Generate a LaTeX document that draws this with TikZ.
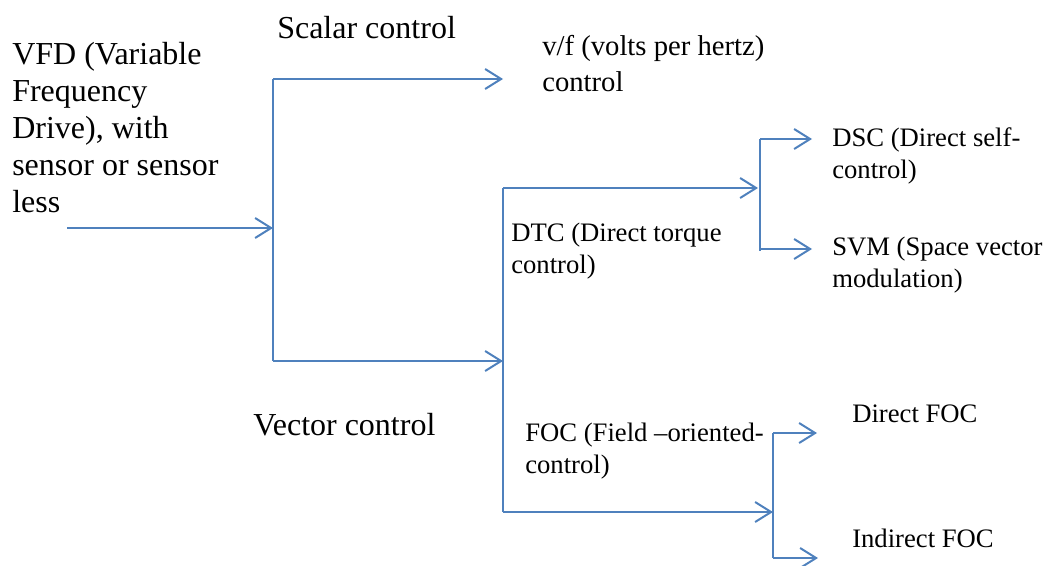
\documentclass[tikz,border=0pt]{standalone}
\usepackage{fontspec}
\setmainfont{Liberation Serif}
\usetikzlibrary{%
  arrows.meta,% Straight Barb tips
  positioning%
}
\definecolor{linkblue}{RGB}{79,129,189}

\begin{document}
\begin{tikzpicture}[
    x=0.75pt,y=-0.75pt,
    >={Straight Barb[length=12pt,width=15pt]},
    line/.style={draw=linkblue,line width=1.5pt,line cap=butt},
    flow/.style={line,->},
    % anchor base = baseline of the last line
    bigtext/.style={font=\fontsize{24}{27.75}\selectfont,align=left,
        anchor=base west,inner sep=0pt},
    midtext/.style={bigtext,font=\fontsize{21.5}{27}\selectfont},
    smalltext/.style={bigtext,font=\fontsize{20}{23.5}\selectfont}
  ]
    \useasboundingbox (0,0) rectangle (1048,565);

    % labels
    \node[bigtext]   (vfd)    at (12,212) {VFD (Variable\\Frequency\\Drive), with\\sensor or sensor\\less};
    \node[bigtext]   (scalar) at (277,38) {Scalar control};
    \node[bigtext]   (vector) at (253,435) {Vector control};
    \node[midtext]   (vf)     at (542,91) {v/f (volts per hertz)\\control};
    \node[smalltext] (dtc)    at (511,273) {DTC (Direct torque\\control)};
    \node[smalltext] (foc)    at (525,473) {FOC (Field –oriented-\\control)};
    \node[smalltext] (dsc)    at (832,178) {DSC (Direct self-\\control)};
    \node[smalltext] (svm)    at (832,287) {SVM (Space vector\\modulation)};
    \node[smalltext] (dfoc)   at (852,422) {Direct FOC};
    \node[smalltext] (ifoc)   at (852,547) {Indirect FOC};

    % junction points
    \coordinate (src)      at (67,228);
    \coordinate (trunk)    at (273,228);
    \coordinate (trunk top) at (273,79);
    \coordinate (trunk bot) at (273,361);
    \coordinate (to vf)    at (503,79);
    \coordinate (to vec)   at (503,361);
    \coordinate (vec top)  at (503,188);
    \coordinate (vec bot)  at (503,512);
    \coordinate (to dtc)   at (758,188);
    \coordinate (to foc)   at (773,512);
    \coordinate (dtc top)  at (760,139);
    \coordinate (dtc bot)  at (760,251);
    \coordinate (to dsc)   at (812,139);
    \coordinate (to svm)   at (812,249);
    \coordinate (foc top)  at (773,433);
    \coordinate (foc bot)  at (773,558);
    \coordinate (to dfoc)  at (817,433);
    \coordinate (to ifoc)  at (818,558);

    % connectors
    \draw[flow] (src) -- (trunk);
    \draw[line] (trunk top) -- (trunk bot);
    \draw[flow] (trunk top) -- (to vf);
    \draw[flow] (trunk bot) -- (to vec);
    \draw[line] (vec top) -- (vec bot);
    \draw[flow] (vec top) -- (to dtc);
    \draw[flow] (vec bot) -- (to foc);
    \draw[line] (dtc top) -- (dtc bot);
    \draw[flow] (dtc top) -- (to dsc);
    \draw[flow] (dtc bot |- to svm) -- (to svm);
    \draw[line] (foc top) -- (foc bot);
    \draw[flow] (foc top) -- (to dfoc);
    \draw[flow] (foc bot) -- (to ifoc);
\end{tikzpicture}
\end{document}
